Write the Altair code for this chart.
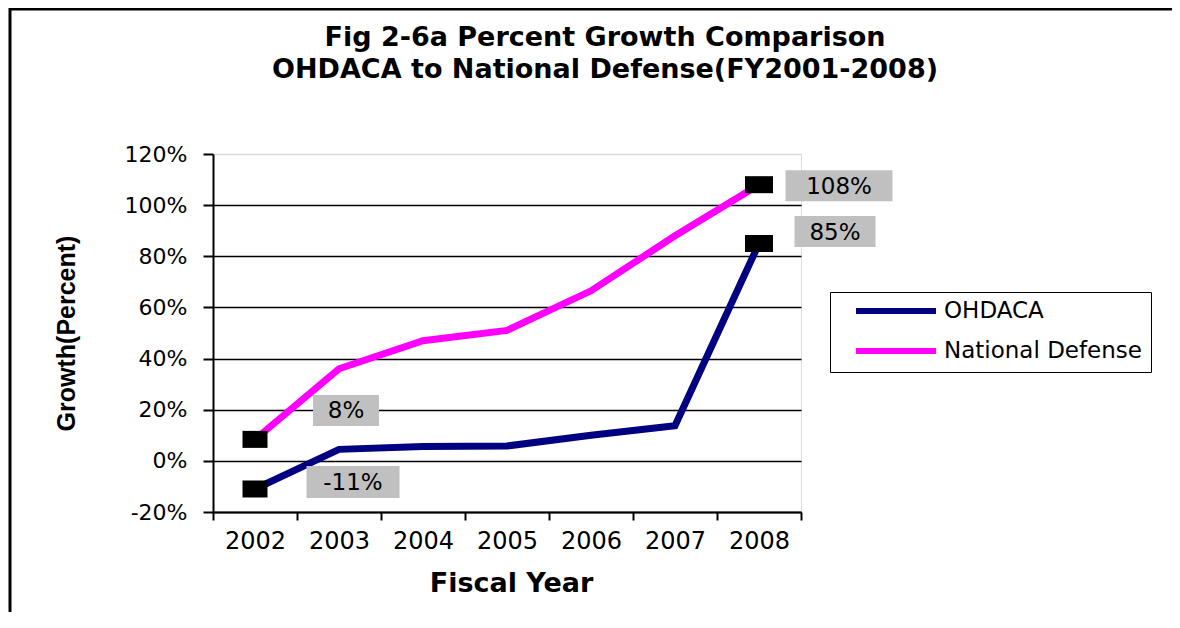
import altair as alt
import pandas as pd

# ---------------- data ----------------
years = ["2002", "2003", "2004", "2005", "2006", "2007", "2008"]
ohdaca = [-0.11, 0.045, 0.056, 0.058, 0.10, 0.137, 0.85]
national_defense = [0.084, 0.36, 0.47, 0.51, 0.665, 0.88, 1.08]
series_names = ["OHDACA", "National Defense"]
series_colors = ["#000080", "#FF00FF"]
y_ticks = [-0.2, 0.0, 0.2, 0.4, 0.6, 0.8, 1.0, 1.2]
title_lines = ["Fig 2-6a Percent Growth Comparison",
               "OHDACA to National Defense(FY2001-2008)"]
x_title = "Fiscal Year"
y_title = "Growth(Percent)"

rows = []
for name, vals in zip(series_names, [ohdaca, national_defense]):
    for yr, v in zip(years, vals):
        rows.append({"year": yr, "series": name, "value": v})
df = pd.DataFrame(rows)

ends = df[df["year"].isin([years[0], years[-1]])].copy()
ends["label"] = ends["value"].map(lambda v: f"{round(v * 100)}%")

# label box styling: (series, year) -> (dx, dy, box width, box height)
label_style = {
    ("National Defense", "2002"): (91, -29, 66, 31),
    ("OHDACA", "2002"): (98, -7, 93, 32),
    ("National Defense", "2008"): (80, 1, 107, 31),
    ("OHDACA", "2008"): (76, -12, 81, 31),
}
# marker sizes (width, height) per end year
marker_style = {"2002": (25, 17), "2008": (28, 17)}

W, H = 588, 358
PAD_L, PAD_T = 205, 146
PAD_R = 1164 - PAD_L - W
PAD_B = 604 - PAD_T - H


def rect_path(ratio):
    return f"M-1,{-ratio}L1,{-ratio}L1,{ratio}L-1,{ratio}Z"


x_enc = alt.X(
    "year:N",
    sort=years,
    scale=alt.Scale(type="band", paddingInner=0, paddingOuter=0),
    axis=alt.Axis(
        title=x_title,
        tickBand="extent",
        labelFont="DejaVu Sans",
        labelFontSize=24,
        labelColor="black",
        labelAngle=0,
        labelPadding=9,
        tickSize=8,
        tickWidth=2,
        tickColor="black",
        domainColor="black",
        domainWidth=2,
        grid=False,
        titleFont="DejaVu Sans",
        titleFontSize=27,
        titleFontWeight="bold",
        titleColor="black",
        titleX=298,
        titleY=79,
        titleBaseline="alphabetic",
        titleAlign="center",
    ),
)
y_enc = alt.Y(
    "value:Q",
    scale=alt.Scale(domain=[-0.2, 1.2], nice=False, zero=False),
    axis=alt.Axis(
        values=y_ticks,
        labelExpr="round(datum.value*100) + '%'",
        labelFont="DejaVu Sans",
        labelFontSize=22,
        labelColor="black",
        labelPadding=16,
        tickSize=10,
        tickWidth=2,
        tickColor="black",
        domainColor="black",
        domainWidth=2,
        gridColor={"condition": {"test": "datum.value > 1.1", "value": "#d9d9d9"},
                   "value": "black"},
        gridWidth=1.5,
        title=y_title,
        titleFont="Liberation Sans",
        titleFontSize=25,
        titleFontWeight="bold",
        titleColor="black",
        titleAngle=270,
        titleX=-139,
        titleY=179,
        titleBaseline="alphabetic",
        titleAlign="center",
    ),
)

lines = alt.Chart(df).mark_line(strokeWidth=7).encode(
    x=x_enc,
    y=y_enc,
    color=alt.Color(
        "series:N",
        scale=alt.Scale(domain=series_names, range=series_colors),
        legend=alt.Legend(
            title=None,
            orient="none",
            legendX=617,
            legendY=138,
            symbolType="stroke",
            symbolSize=6400,
            symbolStrokeWidth=6,
            clipHeight=20,
            rowPadding=17,
            labelFont="DejaVu Sans",
            labelFontSize=23,
            labelColor="black",
            labelOffset=5,
            labelLimit=400,
            padding=9,
            symbolOffset=14,
            strokeColor="black",
            fillColor="white",
        ),
    ),
    order=alt.Order("year:N"),
)

marker_layers = []
for yr, (mw, mh) in marker_style.items():
    marker_layers.append(
        alt.Chart(ends).transform_filter(f"datum.year == '{yr}'").mark_point(
            shape=rect_path(mh / mw), size=mw * mw, filled=True, color="black",
            opacity=1, strokeWidth=0,
        ).encode(x=alt.X("year:N", sort=years), y="value:Q")
    )

label_layers = []
for (s, yr), (dx, dy, bw, bh) in label_style.items():
    base = alt.Chart(ends).transform_filter(
        f"datum.series == '{s}' && datum.year == '{yr}'"
    )
    box = base.mark_point(
        shape=rect_path(bh / bw), size=bw * bw, filled=True, color="#C0C0C0",
        opacity=1, strokeWidth=0, xOffset=dx, yOffset=dy,
    ).encode(x=alt.X("year:N", sort=years), y="value:Q")
    txt = base.mark_text(
        dx=dx, dy=dy + 1, font="DejaVu Sans", fontSize=23, color="black",
        align="center", baseline="middle",
    ).encode(x=alt.X("year:N", sort=years), y="value:Q", text="label:N")
    label_layers += [box, txt]

frame = alt.Chart(pd.DataFrame({"f": [0]})).mark_rect(
    fillOpacity=0, stroke="black", strokeWidth=3
).encode(
    x=alt.value(10 - PAD_L - 8),
    x2=alt.value(1300),
    y=alt.value(9 - PAD_T - 8),
    y2=alt.value(800),
)

chart = alt.layer(lines, *marker_layers, *label_layers, frame).properties(
    width=W,
    height=H,
    padding={"left": PAD_L, "top": PAD_T, "right": PAD_R, "bottom": PAD_B},
    autosize=alt.AutoSizeParams(type="none"),
    title=alt.TitleParams(
        text=title_lines,
        font="DejaVu Sans",
        fontSize=27,
        fontWeight="bold",
        color="black",
        anchor="middle",
        frame="group",
        dx=98,
        dy=76,
        offset=0,
        lineHeight=32,
    ),
).configure_view(strokeWidth=0).configure_legend(strokeWidth=2).configure(
    background="white"
)

chart.save("out.html", embed_options={"renderer": "svg", "actions": False})
